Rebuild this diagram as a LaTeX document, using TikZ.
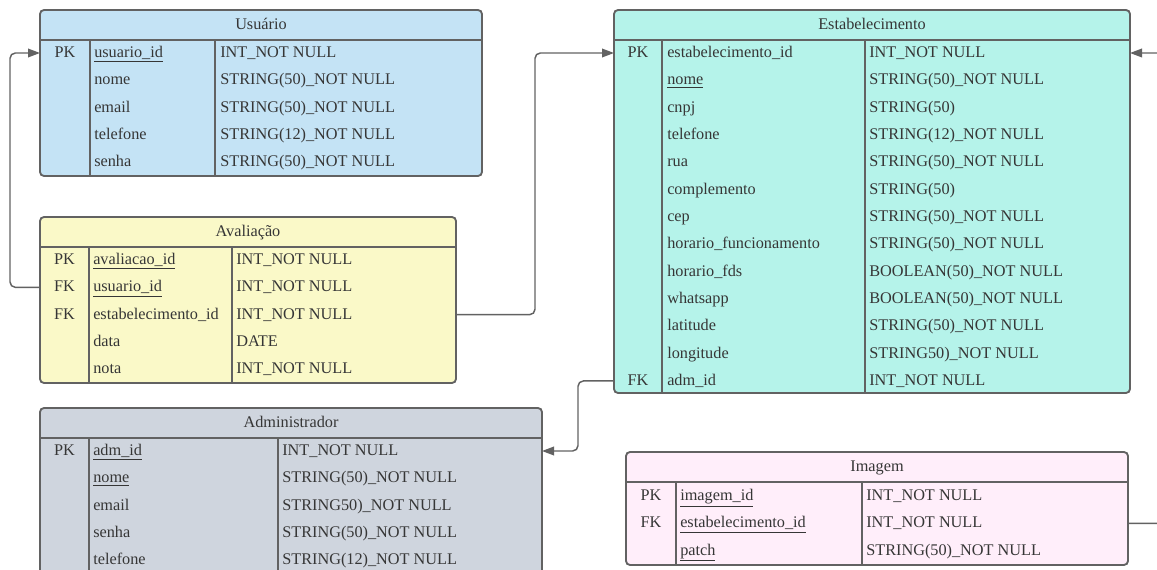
\documentclass[tikz,border=0pt]{standalone}
\usepackage{fontspec}
\setmainfont{Liberation Serif}
\usetikzlibrary{arrows.meta}
\definecolor{bordc}{HTML}{626262}
\definecolor{txtc}{HTML}{363636}
\definecolor{cusu}{HTML}{C4E3F5}
\definecolor{cava}{HTML}{FAF9C8}
\definecolor{cadm}{HTML}{CFD5DE}
\definecolor{cest}{HTML}{B5F3EA}
\definecolor{cimg}{HTML}{FFEEFA}
\tikzset{
  x=0.75pt, y=-0.75pt,
  tbl/.style={draw=bordc, line width=1.4pt, rounded corners=3pt, inner sep=0pt, outer sep=0pt},
  innerline/.style={draw=bordc, line width=1.3pt},
  titlet/.style={inner sep=0pt, text=txtc, font=\fontsize{12.2}{14}\selectfont, text height=8pt, text depth=1pt},
  keyt/.style={inner sep=0pt, text=txtc, font=\fontsize{12.2}{14}\selectfont, text height=8pt, text depth=1pt},
  fldt/.style={anchor=west, inner sep=0pt, text=txtc, font=\fontsize{12.2}{14}\selectfont, text height=8pt, text depth=1pt},
  conn/.style={draw=bordc, line width=1.1pt, rounded corners=4pt, -{Triangle[length=9pt,width=6.5pt]}},
}
\newcommand\ertab[9]{%
  \node[tbl, fill=#6, minimum width={(#4-#2)*0.75pt}, minimum height={(#5-#3)*0.75pt}, anchor=north west] (#1) at (#2,#3) {};
  \draw[innerline] (#2,#3+30) -- (#4,#3+30);
  \draw[innerline] (#7,#3+30) -- (#7,#5);
  \draw[innerline] (#8,#3+30) -- (#8,#5);
  \node[titlet] (#1-title) at ({(#2+#4)/2}, #3+15) {#9};
}
\newcommand\errows[6]{%
  \foreach [count=\ii from 0] \colK/\colF/\colT in {#6} {
    \node[keyt] (#1-k\ii) at (#2, #5+\ii*27.33) {\colK};
    \node[fldt] (#1-f\ii) at (#3, #5+\ii*27.33) {\colF};
    \node[fldt] (#1-t\ii) at (#4, #5+\ii*27.33) {\colT};
  }
}
\begin{document}
\begin{tikzpicture}
\useasboundingbox (0,0) rectangle (1157,570);
\clip (0,0) rectangle (1157,570);
% Usuario
\ertab{usu}{40}{10}{482}{176}{cusu}{90}{215}{Usuário}
\errows{usu}{65}{94}{220}{53}{PK/{\underline{usuario\_id}}/INT\_NOT NULL, /nome/STRING(50)\_NOT NULL, /email/STRING(50)\_NOT NULL, /telefone/STRING(12)\_NOT NULL, /senha/STRING(50)\_NOT NULL}
% Avaliacao
\ertab{ava}{40}{217}{456}{383}{cava}{89}{232}{Avaliação}
\errows{ava}{64.5}{93}{236}{260}{PK/{\underline{avaliacao\_id}}/INT\_NOT NULL, FK/{\underline{usuario\_id}}/INT\_NOT NULL, FK/estabelecimento\_id/INT\_NOT NULL, /data/DATE, /nota/INT\_NOT NULL}
% Administrador
\ertab{adm}{40}{408}{542}{590}{cadm}{89}{278}{Administrador}
\errows{adm}{64.5}{93}{282}{451}{PK/{\underline{adm\_id}}/INT\_NOT NULL, /{\underline{nome}}/STRING(50)\_NOT NULL, /email/STRING50)\_NOT NULL, /senha/STRING(50)\_NOT NULL, /telefone/STRING(12)\_NOT NULL}
% Estabelecimento
\ertab{est}{614}{10}{1130}{393}{cest}{662}{865}{Estabelecimento}
\errows{est}{638}{667}{869}{53}{PK/estabelecimento\_id/INT\_NOT NULL, /{\underline{nome}}/STRING(50)\_NOT NULL, /cnpj/STRING(50), /telefone/STRING(12)\_NOT NULL, /rua/STRING(50)\_NOT NULL, /complemento/STRING(50), /cep/STRING(50)\_NOT NULL, /horario\_funcionamento/STRING(50)\_NOT NULL, /horario\_fds/BOOLEAN(50)\_NOT NULL, /whatsapp/BOOLEAN(50)\_NOT NULL, /latitude/STRING(50)\_NOT NULL, /longitude/STRING50)\_NOT NULL, FK/adm\_id/INT\_NOT NULL}
% Imagem
\ertab{img}{626}{452}{1128}{565}{cimg}{676}{862}{Imagem}
\errows{img}{651}{680}{866}{496}{PK/{\underline{imagem\_id}}/INT\_NOT NULL, FK/{\underline{estabelecimento\_id}}/INT\_NOT NULL, /{\underline{patch}}/STRING(50)\_NOT NULL}
% connectors
\coordinate (c1) at (10,150);
\coordinate (c2) at (535,200);
\coordinate (c3) at (578,420);
\coordinate (c4) at (1175,300);
\draw[conn] (ava.west |- ava-k1) -| (c1) |- (usu.west |- usu-k0);
\draw[conn] (ava.east |- ava-k2) -| (c2) |- (est.west |- est-k0);
\draw[conn] (est.west |- est-k12) -| (c3) |- (adm.east |- adm-k0);
\draw[conn] (img.east |- img-k1) -| (c4) |- (est.east |- est-k0);
\end{tikzpicture}
\end{document}
